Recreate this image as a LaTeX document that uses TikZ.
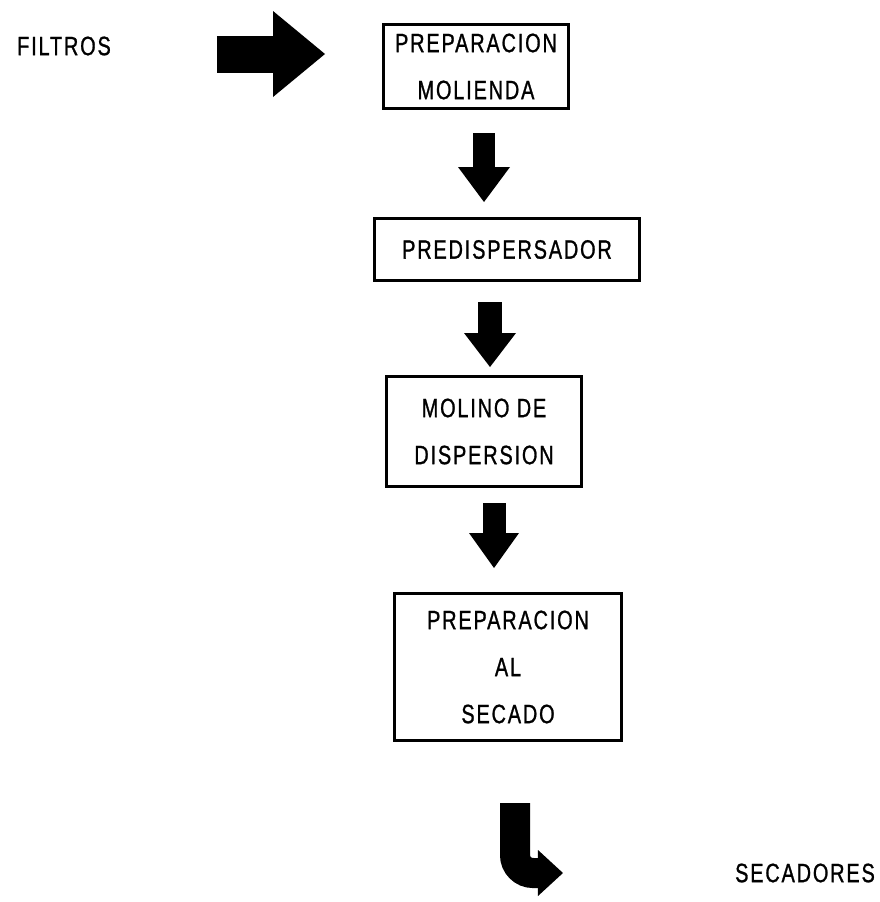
\documentclass[tikz,border=0pt]{standalone}
\usepackage{fontspec}
\setmainfont{Liberation Sans}[FakeStretch=0.75,LetterSpace=7,FakeBold=1]
\usepackage{tikz}
\usetikzlibrary{arrows.meta}
\tikzstyle{stage} = [rectangle, draw, line width=3pt, outer sep=0pt, inner sep=0pt, align=center, font=\fontsize{26.5}{47}\selectfont]
\tikzstyle{terminal} = [inner sep=0pt, font=\fontsize{26.5}{30}\selectfont]
\tikzstyle{blockarrow} = [line width=23pt, -{Triangle[width=52pt,length=35pt,line width=0pt]}]

\begin{document}
\begin{tikzpicture}[x=1pt,y=-1pt]
    \useasboundingbox (0,0) rectangle (879,902);
    % Stages
    \node [stage, minimum width=185pt, minimum height=84pt] (mol) at (476,66.5) {PREPARACION\\MOLIENDA};
    \node [stage, node distance=183pt, below of=mol, xshift=31pt, minimum width=265pt, minimum height=62pt] (pre) {PREDISPERSADOR};
    \node [stage, node distance=182pt, below of=pre, xshift=-23pt, minimum width=195pt, minimum height=110pt] (disp) {MOLINO DE\\DISPERSION};
    \node [stage, node distance=235.5pt, below of=disp, xshift=24pt, minimum width=227pt, minimum height=147pt] (dry) {PREPARACION\\AL\\SECADO};
    \node [terminal] (fil) at (64,46) {FILTROS};
    \node [terminal] (sec) at (805,873) {SECADORES};

    % Flow
    \draw [blockarrow, line width=37pt, -{Triangle[width=86pt,length=52pt,line width=0pt]}, shorten <=106pt, shorten >=58.5pt] ([yshift=-8pt]fil.east) -- ([yshift=-8pt]fil.east -| mol.west);
    \draw [blockarrow, line width=22pt, shorten <=24.5pt, shorten >=16.5pt] ([xshift=8pt]mol.south) -- ([xshift=8pt]mol.south |- pre.north);
    \draw [blockarrow, line width=24pt, -{Triangle[width=52pt,length=34pt,line width=0pt]}, shorten <=21.5pt, shorten >=9.5pt] ([xshift=-17pt]pre.south) -- ([xshift=-17pt]pre.south |- disp.north);
    \draw [blockarrow, -{Triangle[width=50pt,length=35pt,line width=0pt]}, shorten <=16.5pt, shorten >=25.5pt] ([xshift=10pt]disp.south) -- ([xshift=10pt]disp.south |- dry.north);
    \draw [blockarrow, line width=30pt, -{Triangle[width=46pt,length=25pt,line width=0pt]}, rounded corners=18pt, shorten <=62.5pt, shorten >=172pt] ([xshift=7pt]dry.south) |- (sec.west);
\end{tikzpicture}
\end{document}
